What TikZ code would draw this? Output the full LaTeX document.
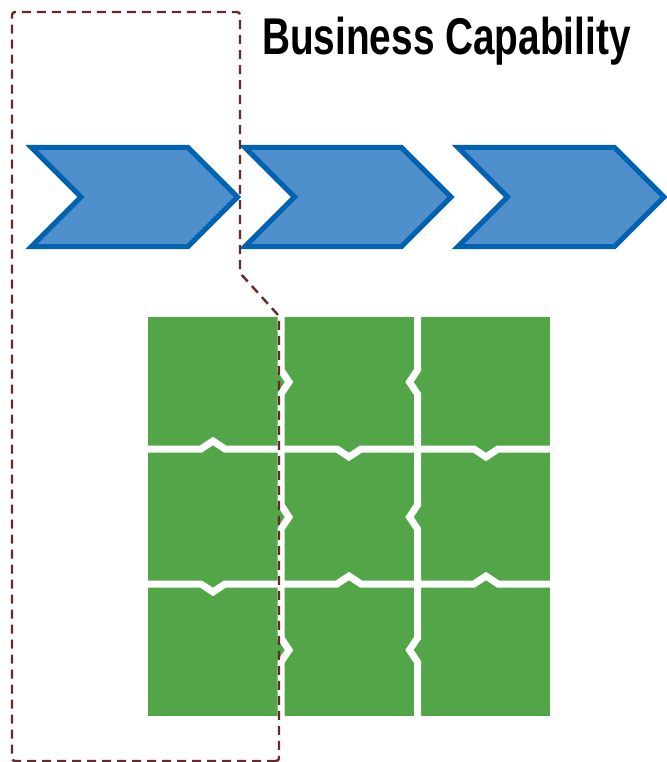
\documentclass[tikz,border=0pt]{standalone}
\usepackage{fontspec}
\newfontfamily\titlefont[FakeStretch=0.75]{Liberation Sans}
\usetikzlibrary{shapes.symbols}

\definecolor{stagefill}{RGB}{78,143,204}
\definecolor{stageline}{RGB}{0,99,177}
\definecolor{piecegreen}{RGB}{82,166,72}
\definecolor{fencebrown}{RGB}{106,40,40}

\begin{document}
\begin{tikzpicture}[x=1pt,y=-1pt]
\tikzstyle{stage} = [signal, signal from=west, signal to=east, draw=stageline,
fill=stagefill, line width=5pt, minimum width=206pt, minimum height=99pt, inner sep=0pt]
\tikzstyle{heading} = [anchor=base west, inner sep=0pt,
font=\titlefont\bfseries\fontsize{51.7}{60}\selectfont]
\tikzstyle{puzzle} = [fill=piecegreen];
\tikzstyle{gap} = [draw=white, line width=7pt, miter limit=10];
\tikzstyle{fence} = [draw=fencebrown, line width=2.4pt, dash pattern=on 9pt off 6pt, rounded corners=3pt];
\useasboundingbox (0,0) rectangle (666,762);

\node [heading] (title) at (262,55) {Business Capability};

% value stream
\node [stage] (stage1) at (134.5,197) {};
\node [stage] (stage2) at (348,197) {};
\node [stage] (stage3) at (561,197) {};

% puzzle pieces
\fill [puzzle] (148,317) rectangle (550,716);
% column gaps
\draw [gap] (281,317) -- (281,370) -- (289,382) -- (281,394) -- (281,505) -- (289,517)
 -- (281,529) -- (281,638) -- (289,650) -- (281,662) -- (281,716);
\draw [gap] (417.5,317) -- (417.5,370) -- (409.5,382) -- (417.5,394) -- (417.5,505) -- (409.5,517)
 -- (417.5,529) -- (417.5,638) -- (409.5,650) -- (417.5,662) -- (417.5,716);
% row gaps
\draw [gap] (148,449) -- (201,449) -- (213,441) -- (225,449) -- (337,449) -- (349,457)
 -- (361,449) -- (474,449) -- (486,457) -- (498,449) -- (550,449);
\draw [gap] (148,584) -- (201,584) -- (213,592) -- (225,584) -- (337,584) -- (349,576)
 -- (361,584) -- (474,584) -- (486,576) -- (498,584) -- (550,584);

% scope boundary
\draw [fence] (279,761) -- (12,761) -- (12,12) -- (240,12) -- (240,273) -- (279,316) -- cycle;
\end{tikzpicture}
\end{document}
